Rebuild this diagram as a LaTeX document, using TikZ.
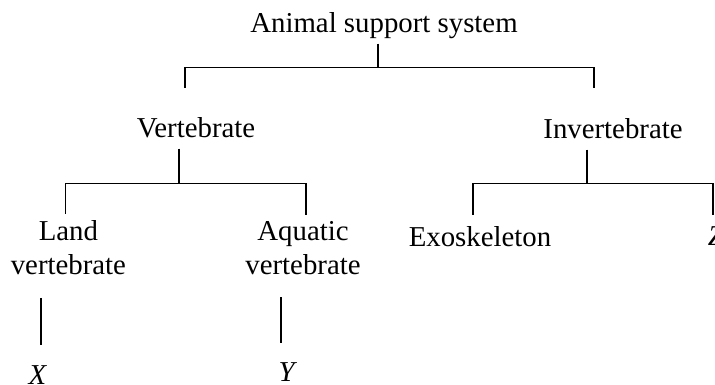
\documentclass[tikz,border=0pt]{standalone}
\usepackage{fontspec}
\setmainfont{Liberation Serif}
\usepackage{tikz}
\usetikzlibrary{positioning}

\tikzset{
  lbl/.style={inner sep=0pt, text height=5mm, text depth=1.5mm, font=\fontsize{20.5pt}{24.2pt}\selectfont},
  lbltwo/.style={inner sep=0pt, align=center, font=\fontsize{20.5pt}{24.2pt}\selectfont}
}

\begin{document}
\begin{tikzpicture}[node distance=2.6cm,on grid,line width=1pt]
  \useasboundingbox (0,0) rectangle (17.875,-9.625);
  \node[lbl] (root) at (9.6,-0.65) {Animal support system};
  \node[lbl] (vert) [below left=2.625cm and 4.7cm of root] {Vertebrate};
  \node[lbl] (invert) [below right=2.65cm and 5.725cm of root] {Invertebrate};
  \node[lbltwo] (land) [below left=2.925cm and 3.19cm of vert] {Land\\vertebrate};
  \node[lbltwo] (aqua) [below right=2.925cm and 2.675cm of vert] {Aquatic\\vertebrate};
  \node[lbl] (exo) [below left=2.7cm and 3.325cm of invert] {Exoskeleton};
  \node[lbl] (zed) [below right=2.675cm and 2.575cm of invert] {\textit{Z}};
  \node[lbl] (xx) [below left=3.225cm and 0.76cm of land] {\textit{X}};
  \node[lbl] (yy) [below left=3.175cm and 0.375cm of aqua] {\textit{Y}};

  % top level
  \draw[shorten <=1mm] ([xshift=-1.5mm]root.south) -- ++(0,-7mm) coordinate (rj);
  \draw[shorten >=7.25mm] (rj) -| ([xshift=-2.75mm]vert.north);
  \draw[shorten >=7.5mm] (rj) -| ([xshift=-4.75mm]invert.north);

  % vertebrates
  \draw[shorten <=1mm] ([xshift=-4.25mm]vert.south) -- ++(0,-9.75mm) coordinate (vj);
  \draw[shorten >=1.5mm] (vj) -| ([xshift=-0.75mm]land.north);
  \draw[shorten >=1.5mm] (vj) -| ([xshift=0.75mm]aqua.north);

  % invertebrates
  \draw[shorten <=1mm] ([xshift=-6.5mm]invert.south) -- ++(0,-9.5mm) coordinate (ij);
  \draw[shorten >=2.75mm] (ij) -| ([xshift=-1.75mm]exo.north);
  \draw[shorten >=2.5mm] (ij) -| ([xshift=-0.75mm]zed.north);

  \draw[shorten <=5.5mm, shorten >=4.5mm] ([xshift=-6.9mm]land.south) -- ([xshift=-6.9mm]land.south |- xx.north);
  \draw[shorten <=5.5mm, shorten >=4.5mm] ([xshift=-5.5mm]aqua.south) -- ([xshift=-5.5mm]aqua.south |- yy.north);
\end{tikzpicture}
\end{document}
